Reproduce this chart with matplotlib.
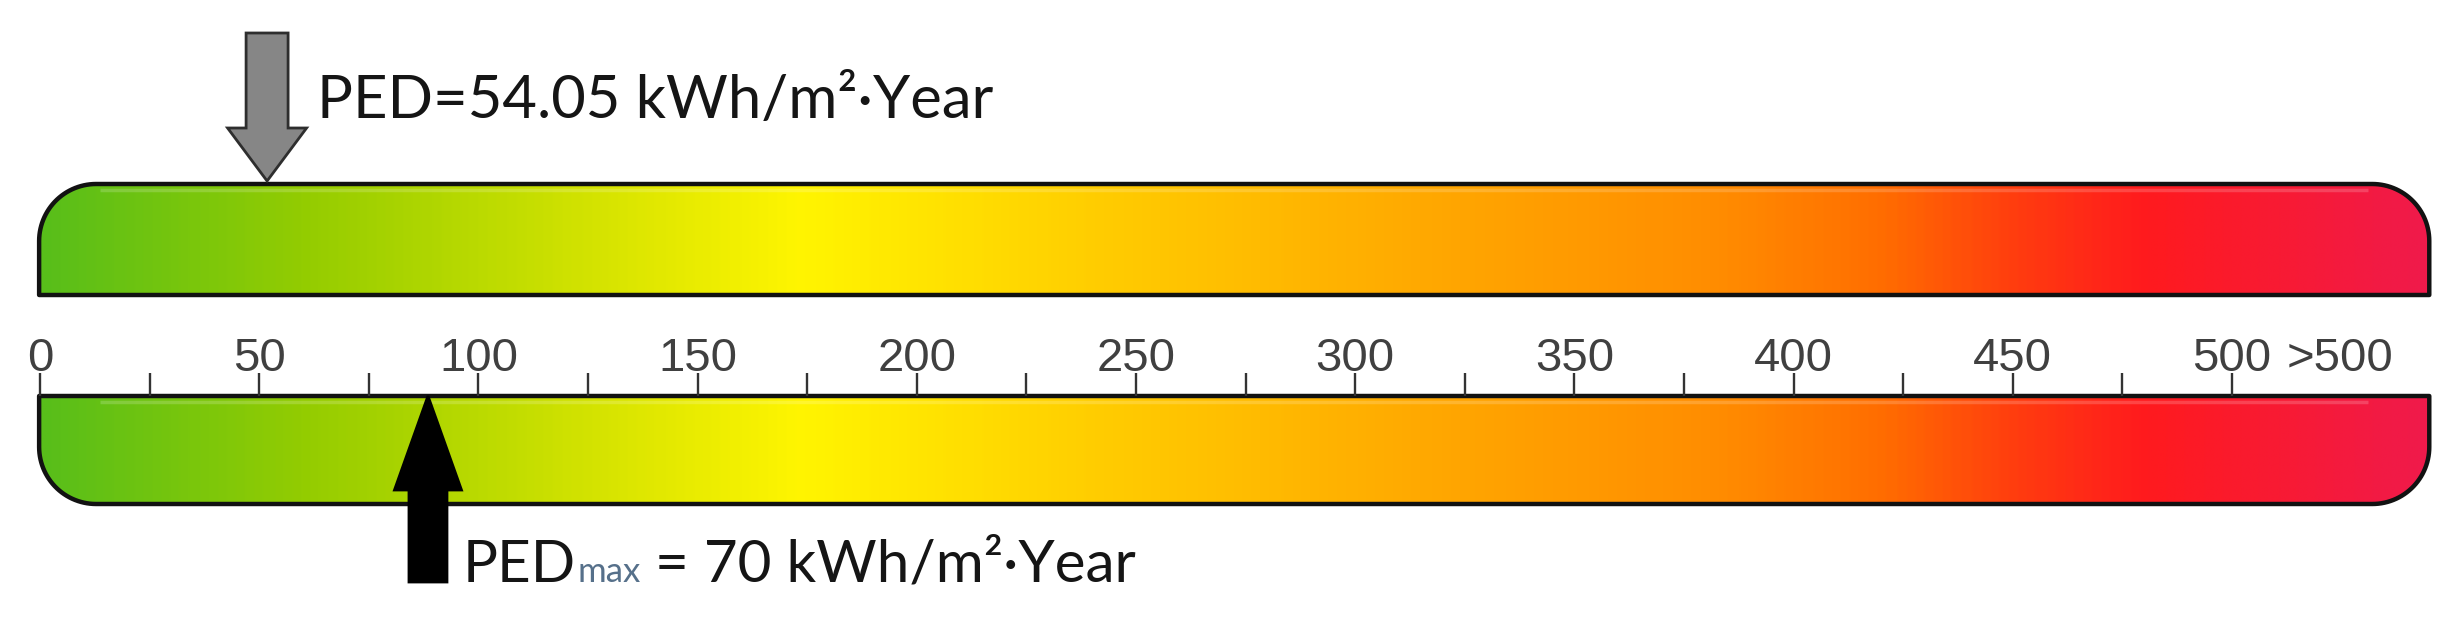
import numpy as np
import matplotlib
matplotlib.use("Agg")
import matplotlib.pyplot as plt
from matplotlib.colors import LinearSegmentedColormap
from matplotlib.patches import Polygon

# ---------------- data ----------------
bar_end = 545.0                      # end of the colour bar (">500" zone)
major_ticks = [0, 50, 100, 150, 200, 250, 300, 350, 400, 450, 500]
minor_ticks = [25, 75, 125, 175, 225, 275, 325, 375, 425, 475]
tick_labels = ["0", "50", "100", "150", "200", "250", "300", "350", "400", "450", "500"]
overflow_label = ">500"
overflow_pos = 524.6

ped_value = 54.05
ped_max_value = 70
ped_arrow_pos = 51.8        # where the grey arrow points in the picture
ped_max_arrow_pos = 88.5    # where the black arrow points in the picture

grad_pos = [0, 62, 134, 173, 241, 313, 384, 420, 452, 481, 545]
grad_colors = ["#58be1a", "#96cd00", "#dce600", "#fff500", "#ffcd00", "#ffaa00",
               "#ff8c00", "#ff6e00", "#ff3c0f", "#ff1a1e", "#f01a4b"]

# ---------------- layout ----------------
W, H = 2459, 619
kx = 4.384                  # px per unit along the scale
x0_px = 40.0
fig = plt.figure(figsize=(W / 100, H / 100), dpi=100)
ax = fig.add_axes([0, 0, 1, 1])
ax.set_xlim(-x0_px / kx, (W - x0_px) / kx)
ax.set_ylim(H, 0)
ax.axis("off")

cmap = LinearSegmentedColormap.from_list(
    "ped", [(p / grad_pos[-1], c) for p, c in zip(grad_pos, grad_colors)])


def bar_outline(x0, x1, y0, y1, r_px, corners):
    rx, ry = r_px / kx, r_px
    t = np.linspace(0, np.pi / 2, 30)
    pts = []
    if "tl" in corners:
        cx, cy = x0 + rx, y0 + ry
        pts += list(zip(cx - rx * np.cos(t), cy - ry * np.sin(t)))
    else:
        pts.append((x0, y0))
    if "tr" in corners:
        cx, cy = x1 - rx, y0 + ry
        pts += list(zip(cx + rx * np.sin(t), cy - ry * np.cos(t)))
    else:
        pts.append((x1, y0))
    if "br" in corners:
        cx, cy = x1 - rx, y1 - ry
        pts += list(zip(cx + rx * np.cos(t), cy + ry * np.sin(t)))
    else:
        pts.append((x1, y1))
    if "bl" in corners:
        cx, cy = x0 + rx, y1 - ry
        pts += list(zip(cx - rx * np.sin(t), cy + ry * np.cos(t)))
    else:
        pts.append((x0, y1))
    return np.array(pts)


def draw_bar(y0, y1, corners):
    x0, x1 = -0.2, bar_end
    pts = bar_outline(x0, x1, y0, y1, 57, corners)
    clip = Polygon(pts, closed=True, facecolor="none", edgecolor="none",
                   transform=ax.transData)
    ax.add_patch(clip)
    grad = np.linspace(0, bar_end, 800)[None, :]
    im = ax.imshow(grad, cmap=cmap, vmin=0, vmax=bar_end, aspect="auto",
                   extent=(x0, x1, y1, y0), interpolation="bilinear", zorder=1)
    im.set_clip_path(clip)
    # light inner highlight
    ax.plot([x0 + 14, x1 - 14], [y0 + 6, y0 + 6], color="white", alpha=0.18,
            lw=2.5, zorder=2, solid_capstyle="butt")
    ax.add_patch(Polygon(pts, closed=True, facecolor="none", edgecolor="#121212",
                         lw=3.2, joinstyle="round", zorder=3))


draw_bar(184, 295, ("tl", "tr"))
draw_bar(396, 504, ("bl", "br"))

# ticks
ax.vlines(major_ticks, 373, 396, color="#333333", lw=1.7, zorder=4)
ax.vlines(minor_ticks, 373, 396, color="#333333", lw=1.7, zorder=4)
tick_font = ["Liberation Sans", "DejaVu Sans"]
for v, lab in zip(major_ticks, tick_labels):
    ax.text(v, 371, lab, ha="center", va="baseline", fontsize=34,
            family=tick_font, color="#404040", zorder=5)
ax.text(overflow_pos, 371, overflow_label, ha="center", va="baseline", fontsize=34,
        family=tick_font, color="#404040", zorder=5)


def arrow(pos, y_tail, y_base, y_tip, hw_shaft_px, hw_head_px, fc, ec):
    s, h = hw_shaft_px / kx, hw_head_px / kx
    verts = [(pos - s, y_tail), (pos + s, y_tail), (pos + s, y_base),
             (pos + h, y_base), (pos, y_tip), (pos - h, y_base), (pos - s, y_base)]
    ax.add_patch(Polygon(verts, closed=True, facecolor=fc, edgecolor=ec, lw=2,
                         joinstyle="miter", zorder=6))


arrow(ped_arrow_pos, 33, 128, 181, 21, 39.5, "#868686", "#2e2e2e")
arrow(ped_max_arrow_pos, 582, 490, 396, 19, 33.5, "#000000", "#000000")

txt_font = ["Lato", "DejaVu Sans"]
txt_col = "#151515"
ax.text(ped_arrow_pos + 50 / kx, 118, f"PED={ped_value:.2f} kWh/m²·Year",
        ha="left", va="baseline", fontsize=43, family=txt_font, color=txt_col, zorder=7)

t1 = ax.text(ped_max_arrow_pos + 35 / kx, 582, "PED", ha="left", va="baseline",
             fontsize=42, family=txt_font, color=txt_col, zorder=7)
fig.canvas.draw()
r = fig.canvas.get_renderer()
inv = ax.transData.inverted()
bb = t1.get_window_extent(r)
xm = inv.transform((bb.x1 + 1, 0))[0]
t2 = ax.text(xm, 582, "max", ha="left", va="baseline", fontsize=25,
             family=txt_font, color="#56708a", zorder=7)
fig.canvas.draw()
bb2 = t2.get_window_extent(r)
xr = inv.transform((bb2.x1, 0))[0]
ax.text(xr, 582, f" = {ped_max_value} kWh/m²·Year", ha="left", va="baseline",
        fontsize=42, family=txt_font, color=txt_col, zorder=7)

fig.savefig("out.png", dpi=100, facecolor="white")
